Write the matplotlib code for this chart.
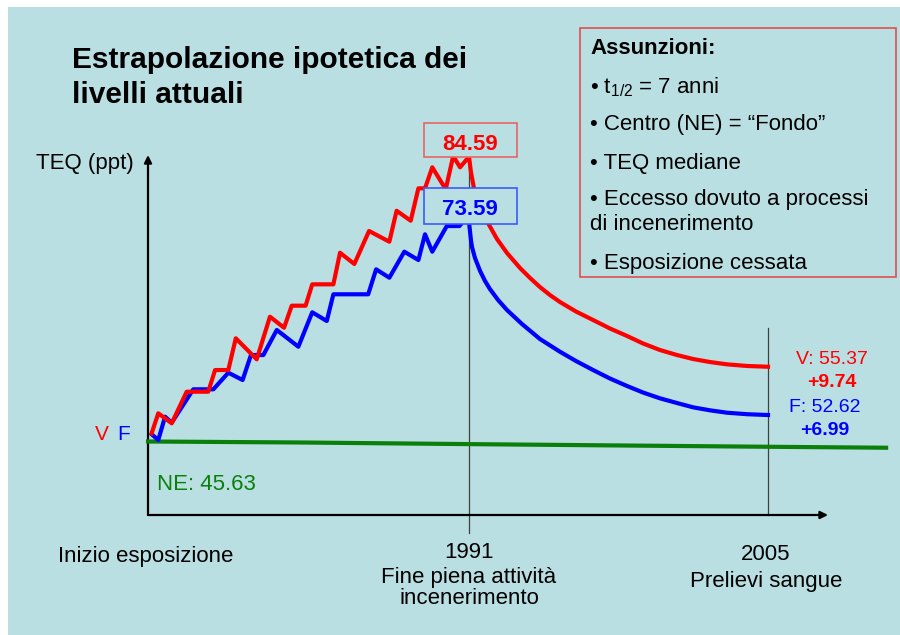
import matplotlib
matplotlib.use('Agg')
import matplotlib.pyplot as plt
from matplotlib.patches import Rectangle

plt.rcParams['font.family'] = ['Liberation Sans', 'DejaVu Sans']
plt.rcParams['mathtext.fontset'] = 'custom'
plt.rcParams['mathtext.rm'] = 'Liberation Sans'

# TEQ (ppt) as drawn, V (red) and F (blue): build-up to 1991, then decay to 2005
v_years = [1976.14, 1976.45, 1977.08, 1977.78, 1978.79, 1979.11, 1979.73, 1980.08,
           1981.06, 1981.68, 1982.34, 1982.70, 1983.35, 1983.66, 1984.65, 1984.96,
           1985.63, 1986.32, 1987.27, 1987.61, 1988.27, 1988.63, 1988.94, 1989.28,
           1989.91, 1990.26, 1990.58, 1991.00,
           1991.09, 1991.23, 1991.42, 1991.56, 1991.89, 1992.31, 1992.78, 1993.39,
           1993.86, 1994.32, 1994.79, 1995.26, 1996.01, 1996.81, 1997.60, 1998.40,
           1999.15, 1999.94, 2000.74, 2001.49, 2002.28, 2003.08, 2004.02, 2005.00]
v_teq = [46.72, 49.39, 48.06, 52.27, 52.27, 55.16, 55.16, 59.39,
         56.59, 62.27, 60.80, 63.74, 63.74, 66.59, 66.59, 70.80,
         69.30, 73.70, 72.27, 76.40, 75.07, 79.39, 79.39, 82.19,
         79.26, 83.70, 82.19, 83.60,
         81.56, 79.43, 77.83, 76.76, 74.76, 72.63, 70.76, 68.76,
         67.43, 66.23, 65.16, 64.23, 62.96, 61.83, 60.70, 59.70,
         58.70, 57.83, 57.16, 56.63, 56.23, 55.92, 55.70, 55.60]

f_years = [1976.14, 1976.45, 1976.77, 1977.08, 1978.09, 1979.03, 1979.73, 1980.40,
           1980.79, 1981.37, 1982.00, 1983.01, 1983.66, 1984.34, 1984.65, 1986.28,
           1986.65, 1987.27, 1987.97, 1988.63, 1988.94, 1989.28, 1989.96, 1990.55,
           1990.86, 1991.00,
           1991.05, 1991.09, 1991.14, 1991.28, 1991.52, 1991.75, 1991.98, 1992.36,
           1992.78, 1993.48, 1994.32, 1995.26, 1996.01, 1996.81, 1997.60, 1998.40,
           1999.15, 1999.94, 2000.74, 2001.49, 2002.28, 2003.08, 2004.02, 2005.00]
f_teq = [46.60, 45.83, 48.94, 48.14, 52.59, 52.59, 54.80, 53.83,
         57.16, 57.16, 60.50, 58.27, 62.86, 61.70, 65.26, 65.26,
         68.59, 67.47, 70.94, 69.83, 73.26, 70.94, 74.36, 74.36,
         75.39, 74.90,
         73.56, 72.50, 71.56, 70.10, 68.36, 67.03, 65.96, 64.50,
         63.16, 61.30, 59.30, 57.60, 56.36, 55.16, 54.03, 53.03,
         52.16, 51.39, 50.76, 50.19, 49.79, 49.47, 49.27, 49.16]

ne_years = [1975.97, 1983.09, 1991.84, 2003.69, 2010.53]
ne_teq = [45.63, 45.50, 45.26, 44.96, 44.80]

start_year, end_year, sample_year = 1975.97, 1991, 2005
v_peak, f_peak = '84.59', '73.59'

BG = '#BADFE3'
RED = '#FF0000'
BLUE = '#0000FF'
GREEN = '#0A800A'

fig = plt.figure(figsize=(9, 6.35), dpi=100)
fig.patch.set_facecolor('white')
ax = fig.add_axes([0, 0, 1, 1])
ax.set_xlim(1969.04, 2011.18)
ax.set_ylim(19.83, 104.50)
ax.set_axis_off()


def P(x, y):
    return (x / 900, 1 - y / 635)


ax.add_patch(Rectangle((8 / 900, 0), 892 / 900, 628 / 635, transform=ax.transAxes,
                       facecolor=BG, edgecolor='none', zorder=0))

# axes with arrows
y_base, y_top, x_right = 35.83, 83.83, 2007.81
ax.annotate('', xy=(start_year, y_top), xytext=(start_year, y_base),
            arrowprops=dict(arrowstyle='-|>', color='black', lw=1.6,
                            mutation_scale=11, shrinkA=0, shrinkB=0), zorder=2)
ax.annotate('', xy=(x_right, y_base), xytext=(start_year, y_base),
            arrowprops=dict(arrowstyle='-|>', color='black', lw=1.6,
                            mutation_scale=11, shrinkA=0, shrinkB=0), zorder=2)
ax.plot([end_year, end_year], [33.43, 83.56], color='#404040', lw=0.9, zorder=1)
ax.plot([sample_year, sample_year], [y_base, 60.76], color='#404040', lw=0.9, zorder=1)

ax.plot(ne_years, ne_teq, color=GREEN, lw=3, zorder=3)
ax.plot(f_years, f_teq, color=BLUE, lw=3, zorder=3)
ax.plot(v_years, v_teq, color=RED, lw=3, zorder=4)

# peak boxes
ax.add_patch(Rectangle(P(424, 157), 93 / 900, 34 / 635, transform=ax.transAxes,
                       facecolor=BG, edgecolor='#E86464', lw=1.2, zorder=5))
ax.add_patch(Rectangle(P(424, 224), 93 / 900, 36 / 635, transform=ax.transAxes,
                       facecolor=BG, edgecolor='#3A5AFF', lw=1.2, zorder=5))
ax.text(*P(470, 149.5), v_peak, transform=ax.transAxes, ha='center', va='baseline',
        fontsize=16, fontweight='bold', color=RED, zorder=6)
ax.text(*P(470, 215), f_peak, transform=ax.transAxes, ha='center', va='baseline',
        fontsize=16, fontweight='bold', color=BLUE, zorder=6)

# assumptions box
ax.add_patch(Rectangle(P(580, 277), 316 / 900, 249 / 635, transform=ax.transAxes,
                       facecolor='none', edgecolor='#E05050', lw=1.2, zorder=5))
ax.text(*P(590, 54), 'Assunzioni:', transform=ax.transAxes, va='baseline',
        fontsize=16, fontweight='bold')
bullets = [(93, r'• t$_{\mathrm{1/2}}$ = 7 anni'),
           (130, '• Centro (NE) = “Fondo”'),
           (168.5, '• TEQ mediane'),
           (205.5, '• Eccesso dovuto a processi'),
           (230.5, 'di incenerimento'),
           (268.5, '• Esposizione cessata')]
for yb, s in bullets:
    ax.text(*P(590, yb), s, transform=ax.transAxes, va='baseline', fontsize=16)

# title and labels
ax.text(*P(72, 68), 'Estrapolazione ipotetica dei', transform=ax.transAxes,
        va='baseline', fontsize=21.5, fontweight='bold')
ax.text(*P(72, 103), 'livelli attuali', transform=ax.transAxes,
        va='baseline', fontsize=21.5, fontweight='bold')
ax.text(*P(36, 169), 'TEQ (ppt)', transform=ax.transAxes, va='baseline', fontsize=16)
ax.text(*P(95, 440.5), 'V', transform=ax.transAxes, va='baseline', fontsize=15, color=RED)
ax.text(*P(117, 440.5), 'F', transform=ax.transAxes, va='baseline', fontsize=15, color=BLUE)
ax.text(*P(157, 489.5), 'NE: 45.63', transform=ax.transAxes, va='baseline',
        fontsize=16, color=GREEN)

ax.text(*P(58, 562), 'Inizio esposizione', transform=ax.transAxes, va='baseline', fontsize=16)
ax.text(*P(469, 558), '1991', transform=ax.transAxes, ha='center', va='baseline', fontsize=16)
ax.text(*P(469, 583), 'Fine piena attività', transform=ax.transAxes, ha='center',
        va='baseline', fontsize=16)
ax.text(*P(469, 604), 'incenerimento', transform=ax.transAxes, ha='center',
        va='baseline', fontsize=16)
ax.text(*P(766, 559.5), '2005', transform=ax.transAxes, ha='center', va='baseline', fontsize=16)
ax.text(*P(766, 586.5), 'Prelievi sangue', transform=ax.transAxes, ha='center',
        va='baseline', fontsize=16)

ax.text(*P(832, 364.5), 'V: 55.37', transform=ax.transAxes, ha='center', va='baseline',
        fontsize=14, color=RED)
ax.text(*P(832, 387), '+9.74', transform=ax.transAxes, ha='center', va='baseline',
        fontsize=14, fontweight='bold', color=RED)
ax.text(*P(825, 411.5), 'F: 52.62', transform=ax.transAxes, ha='center', va='baseline',
        fontsize=14, color=BLUE)
ax.text(*P(825, 435), '+6.99', transform=ax.transAxes, ha='center', va='baseline',
        fontsize=14, fontweight='bold', color=BLUE)

fig.savefig('out.png', dpi=100, facecolor=fig.get_facecolor())
